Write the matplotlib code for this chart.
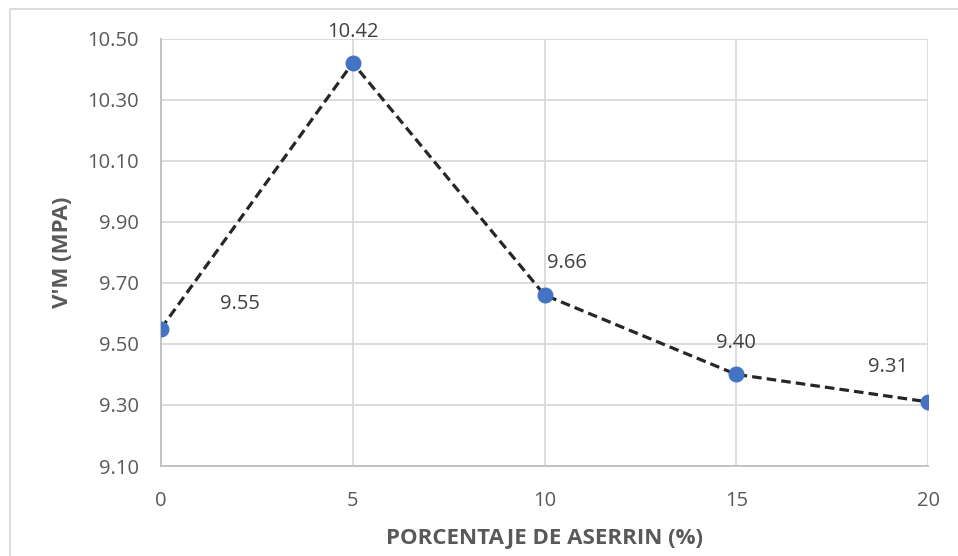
import matplotlib.pyplot as plt
from matplotlib.patches import Rectangle

plt.rcParams['font.family'] = ['Open Sans', 'DejaVu Sans']

# datos
porcentaje = [0, 5, 10, 15, 20]
vm = [9.55, 10.42, 9.66, 9.40, 9.31]
etiquetas = ['9.55', '10.42', '9.66', '9.40', '9.31']
yticks = [9.10, 9.30, 9.50, 9.70, 9.90, 10.10, 10.30, 10.50]

gris = '#595959'

fig = plt.figure(figsize=(9.58, 5.56), dpi=100)
ax = fig.add_axes([161 / 958, 90 / 556, 767 / 958, 427.5 / 556])

ax.plot(porcentaje, vm, color='#262626', linestyle=(0, (3, 1.6)), linewidth=2.3,
        marker='o', markersize=10.5, markerfacecolor='#4472C4',
        markeredgecolor='#4472C4', zorder=3)

# posicion de cada etiqueta (en pixeles respecto al punto)
desplaz = [(79, 25), (0, 31), (22, 32), (0, 31), (-40, 35)]
for x, y, t, d in zip(porcentaje, vm, etiquetas, desplaz):
    ax.annotate(t, (x, y), xytext=d, textcoords='offset pixels',
                ha='center', va='center', fontsize=14.5, color='#404040')

ax.set_xlim(0, 20)
ax.set_ylim(9.10, 10.50)
ax.set_xticks(porcentaje)
ax.set_yticks(yticks)
ax.set_yticklabels([f'{v:.2f}' for v in yticks])
ax.grid(True, color='#d9d9d9', linewidth=1.3)
ax.set_axisbelow(True)
for s in ['top', 'right']:
    ax.spines[s].set_visible(False)
for s in ['left', 'bottom']:
    ax.spines[s].set_color('#bfbfbf')
    ax.spines[s].set_linewidth(1.3)
ax.tick_params(length=0, labelsize=14.5, labelcolor=gris, pad=16)
ax.tick_params(axis='x', pad=18)

ax.set_xlabel('PORCENTAJE DE ASERRIN (%)', fontsize=16, fontweight='bold', color=gris, labelpad=12)
ax.set_ylabel("V'M (MPA)", fontsize=16, fontweight='bold', color=gris, labelpad=10)

fig.patches.append(Rectangle((10 / 958, -0.1), 1.2, 0.1 + (556 - 9) / 556,
                             transform=fig.transFigure, fill=False,
                             edgecolor='#d9d9d9', linewidth=1.3))

fig.savefig('out.png', dpi=100)
